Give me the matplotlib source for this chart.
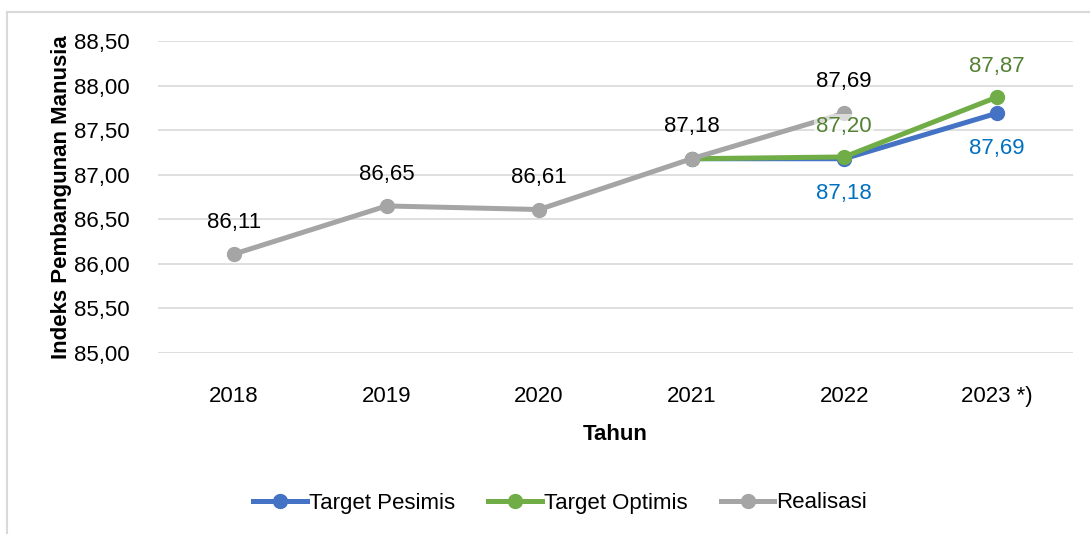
import matplotlib
matplotlib.use("Agg")
import matplotlib.pyplot as plt
from matplotlib.lines import Line2D

# Data
years = ["2018", "2019", "2020", "2021", "2022", "2023 *)"]
realisasi = [86.11, 86.65, 86.61, 87.18, 87.69]          # 2018-2022
pesimis = [87.18, 87.18, 87.69]                         # 2021-2023
optimis = [87.18, 87.20, 87.87]                         # 2021-2023
yticks = [85.0, 85.5, 86.0, 86.5, 87.0, 87.5, 88.0, 88.5]

plt.rcParams["font.family"] = ["Liberation Sans", "DejaVu Sans"]
FS = 16

C_PES, C_OPT, C_REA = "#4472C4", "#70AD47", "#A5A5A5"
L_PES, L_OPT = "#0070C0", "#548235"


def fmt(v):
    return f"{v:.2f}".replace(".", ",")


fig = plt.figure(figsize=(10.9, 5.34), dpi=100)
ax = fig.add_axes([0.1447, 0.339, 0.8397, 0.584])

# outer frame (chart area border)
fig.add_artist(plt.Line2D([7 / 1090, 7 / 1090], [0, 1 - 12 / 534],
                          transform=fig.transFigure, color="#d9d9d9", lw=1.5))
fig.add_artist(plt.Line2D([7 / 1090, 1], [1 - 12 / 534, 1 - 12 / 534],
                          transform=fig.transFigure, color="#d9d9d9", lw=1.5))

x_all = list(range(len(years)))
x_rea = x_all[:len(realisasi)]
x_tgt = x_all[3:]

style = dict(lw=3.6, marker="o", ms=10, solid_capstyle="round")
ax.plot(x_tgt, pesimis, color=C_PES, zorder=3, label="Target Pesimis", **style)
ax.plot(x_tgt, optimis, color=C_OPT, zorder=4, label="Target Optimis", **style)
ax.plot(x_rea, realisasi, color=C_REA, zorder=5, label="Realisasi", **style)

# data labels
for x, v in zip(x_rea, realisasi):
    ax.annotate(fmt(v), (x, v), xytext=(0, 23), textcoords="offset points",
                ha="center", va="center", fontsize=FS, color="black", zorder=6)
for x, v in zip(x_tgt[1:], optimis[1:]):
    ax.annotate(fmt(v), (x, v), xytext=(0, 22), textcoords="offset points",
                ha="center", va="center", fontsize=FS, color=L_OPT, zorder=7,
                bbox=dict(boxstyle="square,pad=0.1", fc="white", ec="none", alpha=0.6))
for x, v in zip(x_tgt[1:], pesimis[1:]):
    ax.annotate(fmt(v), (x, v), xytext=(0, -25), textcoords="offset points",
                ha="center", va="center", fontsize=FS, color=L_PES, zorder=6)

ax.set_xlim(-0.5, len(years) - 0.5)
ax.set_ylim(85.0, 88.5)
ax.set_yticks(yticks)
ax.set_yticklabels([fmt(t) for t in yticks], fontsize=FS)
ax.set_xticks(x_all)
ax.set_xticklabels(years, fontsize=FS)
ax.tick_params(axis="x", length=0, pad=24)
ax.tick_params(axis="y", length=0, pad=20)
ax.grid(axis="y", color="#d9d9d9", lw=1.2)
ax.set_axisbelow(True)
for s in ax.spines.values():
    s.set_visible(False)

ax.set_xlabel("Tahun", fontsize=FS, fontweight="bold", labelpad=12)
ax.set_ylabel("Indeks Pembangunan Manusia", fontsize=FS, fontweight="bold", labelpad=2)

handles = [Line2D([0], [0], color=c, lw=3.6, marker="o", ms=10) for c in (C_PES, C_OPT, C_REA)]
fig.legend(handles, ["Target Pesimis", "Target Optimis", "Realisasi"],
           loc="center", bbox_to_anchor=(0.514, 1 - 503 / 534), ncol=3,
           frameon=False, fontsize=FS, handlelength=2.4, handletextpad=0.1,
           columnspacing=1.5)

fig.savefig("out.png", dpi=100)
